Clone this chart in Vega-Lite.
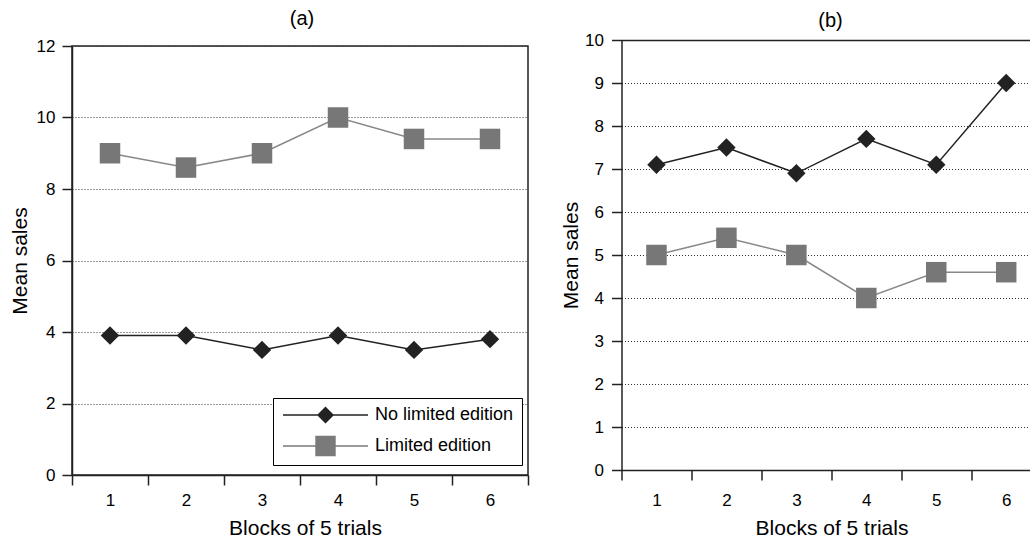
{
  "$schema": "https://vega.github.io/schema/vega-lite/v6.json",
  "padding": {"left": 8, "top": 8, "right": 0, "bottom": 0},
  "autosize": {"type": "pad"},
  "config": {
    "font": "Liberation Sans",
    "view": {"stroke": null},
    "axis": {"labelFontSize": 17, "labelColor": "#000", "titleFontSize": 21, "titleFontWeight": "normal", "titleColor": "#000", "domainColor": "#222", "tickColor": "#222", "domainWidth": 1.5, "tickWidth": 1.5, "tickSize": 10, "gridColor": "#333", "gridDash": [1, 2], "gridWidth": 1, "labelFlush": false},
    "title": {"fontSize": 20, "fontWeight": "normal", "color": "#000"}
  },
  "spacing": 30.5,
  "datasets": {
    "a": [
      {"block": 1, "series": "No limited edition", "sales": 3.9},
      {"block": 2, "series": "No limited edition", "sales": 3.9},
      {"block": 3, "series": "No limited edition", "sales": 3.5},
      {"block": 4, "series": "No limited edition", "sales": 3.9},
      {"block": 5, "series": "No limited edition", "sales": 3.5},
      {"block": 6, "series": "No limited edition", "sales": 3.8},
      {"block": 1, "series": "Limited edition", "sales": 9.0},
      {"block": 2, "series": "Limited edition", "sales": 8.6},
      {"block": 3, "series": "Limited edition", "sales": 9.0},
      {"block": 4, "series": "Limited edition", "sales": 10.0},
      {"block": 5, "series": "Limited edition", "sales": 9.4},
      {"block": 6, "series": "Limited edition", "sales": 9.4}
    ],
    "b": [
      {"block": 1, "series": "No limited edition", "sales": 7.1},
      {"block": 2, "series": "No limited edition", "sales": 7.5},
      {"block": 3, "series": "No limited edition", "sales": 6.9},
      {"block": 4, "series": "No limited edition", "sales": 7.7},
      {"block": 5, "series": "No limited edition", "sales": 7.1},
      {"block": 6, "series": "No limited edition", "sales": 9.0},
      {"block": 1, "series": "Limited edition", "sales": 5.0},
      {"block": 2, "series": "Limited edition", "sales": 5.4},
      {"block": 3, "series": "Limited edition", "sales": 5.0},
      {"block": 4, "series": "Limited edition", "sales": 4.0},
      {"block": 5, "series": "Limited edition", "sales": 4.6},
      {"block": 6, "series": "Limited edition", "sales": 4.6}
    ]
  },
  "resolve": {"scale": {"x": "independent", "y": "independent", "stroke": "independent", "fill": "independent", "shape": "independent", "size": "independent"}},
  "hconcat": [
    {
      "width": 456,
      "height": 429,
      "view": {"stroke": "#222", "strokeWidth": 1.5},
      "title": {"text": "(a)", "offset": 8, "dx": 2},
      "data": {"name": "a"},
      "resolve": {"scale": {"shape": "independent", "fill": "independent", "stroke": "independent", "size": "independent"}},
      "layer": [
        {
          "mark": {"type": "line", "strokeWidth": 1.5},
          "encoding": {
            "x": {"field": "block", "type": "ordinal", "bandPosition": 0.5, "scale": {"type": "band", "paddingInner": 0, "paddingOuter": 0},
                  "axis": {"title": "Blocks of 5 trials", "labelAngle": 0, "tickBand": "extent", "labelPadding": 7, "titlePadding": 9, "titleX": 233, "grid": false}},
            "y": {"field": "sales", "type": "quantitative", "scale": {"domain": [0, 12], "nice": false},
                  "axis": {"title": "Mean sales", "values": [0, 2, 4, 6, 8, 10, 12], "grid": true, "labelPadding": 7, "titlePadding": 6}},
            "stroke": {"field": "series", "type": "nominal", "scale": {"domain": ["Limited edition", "No limited edition"], "range": ["#888888", "#222222"]}, "legend": null}
          }
        },
        {
          "mark": {"type": "point", "filled": true, "opacity": 1},
          "encoding": {
            "x": {"field": "block", "type": "ordinal", "bandPosition": 0.5},
            "y": {"field": "sales", "type": "quantitative"},
            "shape": {"field": "series", "type": "nominal", "scale": {"domain": ["Limited edition", "No limited edition"], "range": ["square", "diamond"]}, "legend": null},
            "size": {"field": "series", "type": "nominal", "scale": {"domain": ["Limited edition", "No limited edition"], "range": [420, 340]}, "legend": null},
            "fill": {"field": "series", "type": "nominal", "scale": {"domain": ["Limited edition", "No limited edition"], "range": ["#777777", "#222222"]}, "legend": null}
          }
        },
        {
          "mark": {"type": "point", "filled": true, "opacity": 0},
          "encoding": {
            "x": {"field": "block", "type": "ordinal", "bandPosition": 0.5},
            "y": {"field": "sales", "type": "quantitative"},
            "shape": {"field": "series", "type": "nominal",
              "scale": {"domain": ["No limited edition", "Limited edition"], "range": ["M-5,-0.08L5,-0.08L5,0.08L-5,0.08Z M-1,0L0,-1L1,0L0,1Z", "M-5,-0.08L5,-0.08L5,0.08L-5,0.08Z M-1.2,-1.2L1.2,-1.2L1.2,1.2L-1.2,1.2Z"]},
              "legend": {
                "title": null, "orient": "none", "legendX": 201, "legendY": 352, "padding": 8,
                "strokeColor": "#000", "fillColor": "#fff", "labelFontSize": 18, "labelColor": "#000",
                "symbolSize": 289, "symbolOffset": 35.5, "labelOffset": 40.5, "rowPadding": 11, "symbolStrokeWidth": 0, "symbolOpacity": 1
              }},
            "fill": {"field": "series", "type": "nominal",
              "scale": {"domain": ["No limited edition", "Limited edition"], "range": ["#222222", "#7a7a7a"]},
              "legend": {
                "title": null, "orient": "none", "legendX": 201, "legendY": 352, "padding": 8,
                "strokeColor": "#000", "fillColor": "#fff", "labelFontSize": 18, "labelColor": "#000",
                "symbolSize": 289, "symbolOffset": 35.5, "labelOffset": 40.5, "rowPadding": 11, "symbolStrokeWidth": 0, "symbolOpacity": 1
              }}
          }
        }
      ]
    },
    {
      "width": 408,
      "height": 424,
      "title": {"text": "(b)", "offset": 0, "dx": 5},
      "data": {"name": "b"},
      "resolve": {"axis": {"x": "independent"}},
      "layer": [
        {
          "mark": {"type": "line", "strokeWidth": 1.5},
          "encoding": {
            "x": {"field": "block", "type": "quantitative", "scale": {"domain": [0.5, 6.333], "nice": false, "zero": false},
                  "axis": {"title": "Blocks of 5 trials", "values": [1, 2, 3, 4, 5, 6], "tickOffset": -35, "labelOffset": 35, "labelPadding": 12, "titlePadding": 9, "titleX": 210, "grid": false, "orient": "bottom"}},
            "y": {"field": "sales", "type": "quantitative", "scale": {"domain": [0, 10], "nice": false, "range": [424, -6]},
                  "axis": {"title": "Mean sales", "values": [0, 1, 2, 3, 4, 5, 6, 7, 8, 9, 10], "grid": true, "labelPadding": 8, "titlePadding": 3}},
            "stroke": {"field": "series", "type": "nominal", "scale": {"domain": ["No limited edition", "Limited edition"], "range": ["#222222", "#888888"]}, "legend": null}
          }
        },
        {
          "mark": {"type": "point", "filled": true, "opacity": 1},
          "encoding": {
            "x": {"field": "block", "type": "quantitative", "axis": {"orient": "top", "labels": false, "ticks": false, "title": null, "grid": false, "domain": true, "offset": 6}},
            "y": {"field": "sales", "type": "quantitative"},
            "shape": {"field": "series", "type": "nominal", "scale": {"domain": ["No limited edition", "Limited edition"], "range": ["diamond", "square"]}, "legend": null},
            "size": {"field": "series", "type": "nominal", "scale": {"domain": ["No limited edition", "Limited edition"], "range": [340, 420]}, "legend": null},
            "fill": {"field": "series", "type": "nominal", "scale": {"domain": ["No limited edition", "Limited edition"], "range": ["#222222", "#777777"]}, "legend": null}
          }
        }
      ]
    }
  ]
}
